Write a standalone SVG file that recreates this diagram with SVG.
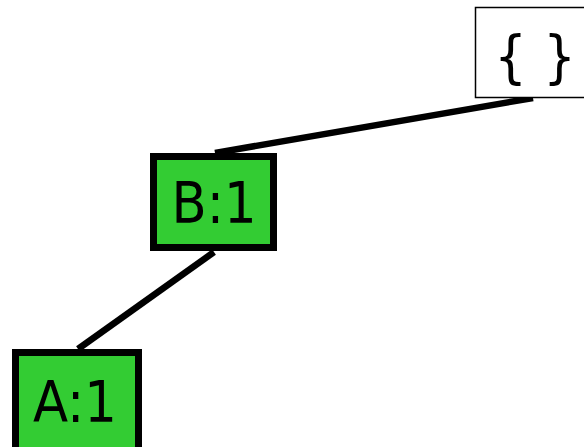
<svg xmlns="http://www.w3.org/2000/svg" width="584" height="447" viewBox="0 0 584 447">
<style>
.lbl{font-family:"DejaVu Sans Condensed","DejaVu Sans",sans-serif;font-stretch:condensed;font-size:57px;text-anchor:middle;fill:#000}
.node{fill:#33cc33;stroke:#000;stroke-width:7}
.edge{stroke:#000;stroke-width:6.5;fill:none}
</style>
<g id="connectors">
<line class="edge" x1="533" y1="98" x2="215" y2="153"/>
<line class="edge" x1="214" y1="252" x2="78" y2="349"/>
</g>
<g id="root">
<rect x="475.5" y="7.5" width="118" height="90" fill="#fff" stroke="#000" stroke-width="1.5"/>
<text class="lbl" x="535" y="76">{ }</text>
</g>
<g id="B">
<rect class="node" x="153.5" y="156.5" width="120" height="91"/>
<text class="lbl" x="214" y="223">B:1</text>
</g>
<g id="A">
<rect class="node" x="15.5" y="352.5" width="123" height="100"/>
<text class="lbl" x="75" y="422">A:1</text>
</g>
</svg>
